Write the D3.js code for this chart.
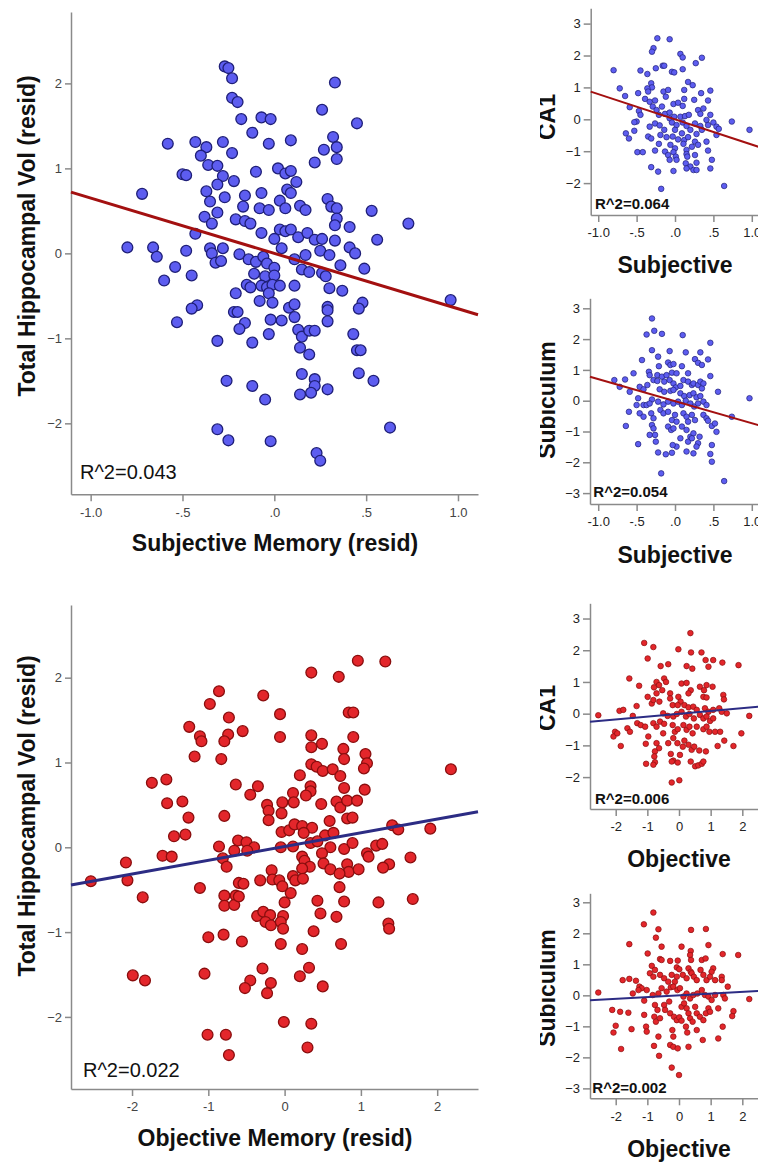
<!DOCTYPE html>
<html>
<head>
<meta charset="utf-8">
<script src="https://cdn.jsdelivr.net/npm/d3@7"></script>
<style>
  body { margin: 0; background: #fff; }
  svg { display: block; }
  text { font-family: Arial, "Liberation Sans", sans-serif; }
</style>
</head>
<body>
<svg id="chart" width="758" height="1163"></svg>
<script>
// ---- data ----
const subjTicks = [-1, -0.5, 0, 0.5, 1];
const subjTickLabels = ['-1.0', '-.5', '.0', '.5', '1.0'];
const objTicks = [-2, -1, 0, 1, 2];
const objTickLabels = ['-2', '-1', '0', '1', '2'];
const hippTicks = [-2, -1, 0, 1, 2];
const ca1Ticks = [-2, -1, 0, 1, 2, 3];
const subTicks = [-3, -2, -1, 0, 1, 2, 3];

const rSquared = ['R^2=0.043', 'R^2=0.022', 'R^2=0.064', 'R^2=0.054', 'R^2=0.006', 'R^2=0.002'];
const fitIntercepts = [0, 0.009, 0, -0.015, -0.002, 0];
const fitSlopes = [-0.651, 0.162, -0.791, -0.717, 0.089, 0.055];

// Total hippocampal volume vs subjective memory
const hippSubj = [[-0.27,2.20],[-0.25,2.18],[-0.23,2.06],[-0.23,1.83],[-0.20,1.78],[0.33,2.01],[0.26,1.69],[0.45,1.53],[-0.18,1.58],[-0.07,1.60],[-0.02,1.58],[-0.12,1.42],[0.32,1.37],[-0.58,1.29],[-0.43,1.31],[-0.37,1.25],[-0.28,1.31],[-0.03,1.29],[0.09,1.33],[0.27,1.22],[0.34,1.25],[-0.40,1.15],[-0.23,1.18],[0.34,1.11],[0.22,1.07],[-0.36,1.04],[-0.31,1.03],[-0.50,0.93],[-0.48,0.92],[-0.28,0.91],[-0.10,0.96],[0.02,1.00],[0.06,0.94],[0.09,0.97],[-0.22,0.85],[0.12,0.84],[-0.31,0.81],[-0.72,0.70],[-0.37,0.73],[-0.27,0.66],[-0.16,0.68],[-0.07,0.71],[0.07,0.75],[0.09,0.71],[-0.35,0.61],[0.03,0.62],[0.29,0.64],[-0.17,0.55],[-0.08,0.53],[-0.03,0.51],[0.06,0.53],[0.14,0.56],[0.17,0.51],[0.31,0.55],[0.34,0.53],[0.53,0.50],[-0.31,0.48],[-0.38,0.43],[-0.21,0.40],[-0.16,0.38],[-0.13,0.35],[-0.34,0.35],[0.34,0.41],[0.73,0.35],[0.33,0.33],[0.41,0.31],[-0.43,0.23],[-0.07,0.24],[0.03,0.28],[0.06,0.26],[0.09,0.28],[0.13,0.19],[0.18,0.24],[0.00,0.17],[0.22,0.16],[0.26,0.17],[0.33,0.15],[0.56,0.16],[-0.80,0.07],[-0.66,0.07],[-0.64,-0.04],[-0.48,0.03],[-0.35,0.06],[-0.34,0.00],[-0.28,0.06],[0.04,0.06],[0.25,0.03],[0.41,0.07],[0.44,0.00],[-0.19,-0.01],[-0.14,-0.07],[-0.10,-0.10],[-0.06,-0.04],[-0.04,-0.12],[0.11,-0.07],[0.17,-0.02],[0.30,-0.02],[-0.32,-0.11],[-0.29,-0.09],[-0.54,-0.16],[0.36,-0.14],[0.49,-0.18],[0.00,-0.17],[0.15,-0.19],[0.19,-0.22],[0.26,-0.23],[0.28,-0.27],[-0.11,-0.24],[-0.05,-0.27],[0.00,-0.26],[-0.45,-0.26],[-0.60,-0.32],[-0.15,-0.37],[-0.13,-0.40],[-0.07,-0.38],[-0.04,-0.40],[-0.01,-0.37],[0.03,-0.38],[0.11,-0.38],[0.30,-0.41],[0.37,-0.44],[-0.21,-0.47],[-0.03,-0.47],[0.96,-0.55],[-0.08,-0.56],[-0.01,-0.58],[-0.42,-0.61],[-0.45,-0.65],[0.08,-0.64],[0.11,-0.60],[0.29,-0.63],[0.29,-0.67],[0.48,-0.58],[0.46,-0.65],[-0.22,-0.69],[-0.20,-0.69],[0.11,-0.75],[-0.53,-0.81],[-0.16,-0.82],[-0.02,-0.78],[0.04,-0.79],[0.29,-0.80],[-0.19,-0.89],[0.13,-0.90],[0.15,-0.98],[0.19,-0.91],[0.22,-0.91],[-0.03,-0.95],[0.43,-0.95],[-0.31,-1.03],[-0.12,-1.05],[0.14,-1.11],[0.19,-1.19],[0.45,-1.14],[0.47,-1.14],[0.15,-1.42],[0.22,-1.48],[0.22,-1.56],[0.20,-1.64],[0.14,-1.66],[0.29,-1.60],[0.46,-1.41],[0.54,-1.50],[-0.26,-1.50],[-0.12,-1.56],[-0.05,-1.72],[-0.31,-2.07],[-0.25,-2.20],[-0.02,-2.21],[0.23,-2.35],[0.25,-2.44],[0.63,-2.05]];

// Total hippocampal volume vs objective memory
const hippObj = [[0.96,2.20],[1.32,2.19],[0.35,2.06],[0.71,2.01],[-0.86,1.84],[-0.28,1.79],[-0.98,1.69],[-0.06,1.57],[0.84,1.59],[0.90,1.59],[-0.73,1.53],[-1.25,1.42],[-1.11,1.31],[-1.09,1.25],[-0.74,1.33],[-0.79,1.25],[-0.55,1.37],[-0.06,1.30],[0.35,1.32],[0.35,1.18],[0.49,1.22],[0.90,1.30],[0.77,1.16],[0.78,1.04],[1.06,1.10],[1.08,0.99],[1.04,0.93],[-1.18,1.07],[-0.83,1.04],[0.35,0.98],[0.42,0.95],[0.50,0.90],[0.63,0.92],[0.73,0.84],[0.20,0.85],[2.18,0.92],[-1.74,0.76],[-1.55,0.80],[-0.64,0.74],[-0.35,0.72],[-0.45,0.62],[0.34,0.72],[0.34,0.66],[0.28,0.61],[0.11,0.64],[0.78,0.70],[1.05,0.68],[-1.54,0.52],[-1.34,0.54],[-0.23,0.50],[-0.21,0.43],[-0.21,0.32],[-0.03,0.53],[-0.04,0.40],[0.12,0.53],[0.48,0.51],[0.68,0.54],[0.73,0.47],[0.82,0.55],[0.95,0.55],[0.82,0.34],[0.89,0.35],[-1.26,0.35],[-0.79,0.37],[0.59,0.31],[-0.04,0.18],[0.06,0.20],[0.13,0.27],[0.23,0.25],[0.36,0.23],[0.25,0.17],[0.53,0.14],[0.64,0.17],[-1.45,0.13],[-1.30,0.15],[1.41,0.26],[1.49,0.21],[1.91,0.22],[-0.86,0.01],[-0.66,-0.04],[-0.61,0.08],[-0.50,0.06],[-0.40,0.00],[-0.49,-0.04],[-0.05,0.00],[0.11,0.01],[0.34,0.05],[0.43,0.07],[0.60,0.00],[0.78,-0.02],[0.89,0.05],[1.20,0.02],[1.28,0.04],[-1.60,-0.10],[-1.48,-0.11],[-0.81,-0.13],[-0.76,-0.23],[0.23,-0.11],[0.26,-0.16],[0.33,-0.23],[0.23,-0.25],[0.49,-0.07],[0.51,-0.19],[0.82,-0.20],[0.84,-0.29],[0.97,-0.26],[1.08,-0.07],[1.10,-0.11],[1.65,-0.12],[1.37,-0.20],[1.29,-0.24],[-2.08,-0.18],[-0.17,-0.27],[0.60,-0.26],[0.72,-0.31],[0.11,-0.34],[0.14,-0.39],[0.24,-0.37],[-0.32,-0.39],[-0.16,-0.38],[-0.07,-0.39],[-0.03,-0.46],[-0.60,-0.42],[-0.54,-0.43],[-2.54,-0.40],[-2.06,-0.39],[-1.11,-0.48],[0.72,-0.47],[0.08,-0.54],[-1.86,-0.59],[-0.79,-0.57],[-0.79,-0.69],[-0.64,-0.57],[-0.66,-0.68],[-0.60,-0.58],[0.00,-0.65],[0.43,-0.63],[0.78,-0.64],[1.23,-0.65],[1.68,-0.61],[0.47,-0.78],[0.68,-0.82],[-0.36,-0.81],[-0.28,-0.76],[-0.19,-0.80],[-0.25,-0.88],[-0.18,-0.92],[-0.02,-0.81],[-0.05,-0.88],[-0.02,-0.96],[1.36,-0.90],[1.37,-0.96],[0.38,-0.99],[-1.00,-1.06],[-0.80,-1.03],[-0.56,-1.11],[-0.05,-1.14],[0.23,-1.20],[0.74,-1.14],[-0.29,-1.43],[0.32,-1.42],[0.20,-1.52],[-1.05,-1.49],[-1.99,-1.51],[-1.83,-1.57],[-0.45,-1.57],[-0.52,-1.66],[-0.18,-1.60],[-0.23,-1.72],[0.50,-1.64],[-0.01,-2.06],[0.35,-2.08],[-1.01,-2.21],[-0.77,-2.21],[-0.73,-2.45],[0.30,-2.36]];

// CA1 vs subjective
const ca1Subj = [[-0.23,2.54],[-0.07,2.51],[-0.28,2.23],[-0.30,2.12],[0.07,2.05],[0.10,1.94],[0.27,1.76],[0.35,1.93],[-0.80,1.54],[-0.45,1.53],[-0.36,1.42],[-0.25,1.60],[-0.16,1.68],[-0.14,1.68],[-0.04,1.49],[-0.01,1.47],[0.10,1.57],[-0.31,1.13],[-0.30,1.00],[-0.36,0.97],[-0.35,0.87],[0.17,1.17],[0.23,1.07],[-0.72,0.97],[-0.65,0.73],[-0.48,0.82],[-0.39,0.64],[-0.33,0.55],[-0.26,0.59],[-0.15,0.87],[-0.09,0.92],[-0.12,0.71],[-0.02,0.48],[0.04,0.52],[0.12,0.64],[0.10,0.42],[0.12,0.92],[0.25,0.61],[0.34,0.82],[0.46,0.90],[0.43,0.59],[-0.59,0.38],[-0.47,0.26],[-0.45,0.14],[-0.29,0.40],[-0.24,0.29],[-0.17,0.40],[-0.21,0.14],[-0.13,0.17],[-0.07,0.21],[-0.07,0.03],[-0.01,0.08],[0.07,0.08],[0.13,0.10],[0.18,0.14],[0.30,0.29],[0.33,0.17],[0.37,0.34],[0.46,0.14],[0.41,-0.02],[-0.50,-0.07],[-0.53,-0.09],[-0.64,-0.44],[-0.60,-0.60],[-0.53,-0.36],[-0.33,-0.23],[-0.35,-0.54],[-0.26,-0.13],[-0.20,-0.19],[-0.14,-0.33],[-0.04,-0.10],[0.02,-0.18],[0.00,-0.33],[0.10,-0.10],[0.15,-0.21],[0.20,-0.33],[0.26,-0.13],[0.33,-0.21],[0.35,-0.33],[0.28,-0.46],[0.43,-0.18],[0.50,-0.10],[0.54,-0.23],[0.57,-0.30],[0.54,-0.49],[0.74,-0.07],[0.97,-0.33],[-0.19,-0.49],[-0.11,-0.56],[-0.03,-0.54],[0.04,-0.63],[0.09,-0.44],[0.12,-0.65],[0.17,-0.56],[0.26,-0.70],[0.30,-0.80],[0.41,-0.70],[-0.21,-0.77],[-0.31,-0.60],[-0.06,-0.80],[0.00,-0.91],[0.11,-0.77],[0.15,-0.96],[0.22,-0.86],[-0.26,-0.98],[-0.49,-1.03],[-0.42,-1.03],[-0.13,-1.01],[-0.09,-1.12],[-0.02,-1.03],[0.01,-1.17],[0.15,-1.09],[0.16,-1.17],[0.26,-1.12],[0.43,-0.98],[-0.07,-1.27],[0.02,-1.27],[0.14,-1.38],[0.20,-1.48],[0.24,-1.59],[0.28,-1.36],[0.28,-1.59],[0.15,-1.54],[-0.31,-1.50],[-0.22,-1.64],[-0.02,-1.62],[0.48,-1.27],[0.46,-1.54],[0.64,-2.09],[-0.18,-2.18]];

// Subiculum vs subjective
const subSubj = [[-0.30,2.67],[-0.37,2.15],[-0.27,2.27],[-0.17,2.17],[0.10,2.13],[0.46,1.88],[-0.30,1.64],[-0.07,1.61],[0.14,1.57],[0.33,1.57],[-0.22,1.43],[-0.43,1.32],[0.26,1.35],[0.30,1.23],[0.35,1.16],[0.43,1.34],[-0.09,1.24],[-0.06,1.16],[-0.02,1.19],[0.09,1.12],[-0.21,1.12],[-0.54,0.89],[-0.34,0.94],[-0.33,0.83],[-0.23,0.83],[-0.17,0.78],[-0.11,0.83],[-0.04,0.91],[0.02,0.89],[0.17,0.89],[0.46,0.80],[-0.79,0.67],[-0.72,0.45],[-0.65,0.69],[-0.59,0.29],[-0.46,0.45],[-0.41,0.37],[-0.36,0.51],[-0.28,0.67],[-0.23,0.64],[-0.14,0.62],[-0.07,0.67],[-0.02,0.56],[0.01,0.43],[0.07,0.48],[0.11,0.67],[0.17,0.62],[0.22,0.51],[0.24,0.56],[0.30,0.51],[0.35,0.40],[0.33,0.62],[0.37,0.56],[0.56,0.29],[-0.20,0.37],[-0.14,0.29],[-0.06,0.32],[-0.02,0.35],[0.07,0.24],[0.12,0.15],[0.19,0.18],[0.24,0.24],[0.28,0.11],[0.33,0.15],[-0.48,0.08],[-0.50,-0.14],[-0.41,-0.14],[-0.37,-0.14],[-0.30,0.04],[-0.33,-0.09],[-0.22,-0.03],[-0.15,-0.12],[-0.09,-0.03],[-0.02,-0.09],[0.04,-0.03],[0.09,-0.14],[0.14,0.00],[0.20,-0.09],[0.25,-0.19],[0.30,-0.09],[0.37,-0.03],[0.41,-0.14],[0.97,0.08],[-0.60,-0.36],[-0.46,-0.41],[-0.41,-0.52],[-0.31,-0.41],[-0.28,-0.57],[-0.30,-0.79],[-0.19,-0.30],[-0.15,-0.41],[-0.09,-0.36],[0.00,-0.46],[-0.04,-0.63],[0.02,-0.68],[0.11,-0.41],[0.15,-0.52],[0.17,-0.68],[0.22,-0.46],[0.26,-0.63],[0.37,-0.46],[0.41,-0.57],[0.43,-0.65],[0.48,-0.82],[0.52,-0.74],[0.54,-1.01],[0.74,-0.52],[-0.64,-0.82],[-0.28,-0.90],[-0.26,-1.11],[-0.09,-0.84],[-0.05,-0.95],[-0.02,-0.90],[0.09,-0.84],[0.15,-0.95],[0.20,-1.17],[0.24,-1.06],[0.17,-1.33],[0.22,-1.22],[0.32,-1.17],[-0.33,-1.11],[-0.25,-1.33],[0.07,-1.22],[0.02,-1.49],[-0.03,-1.44],[0.30,-1.38],[0.28,-1.49],[0.48,-1.44],[0.46,-1.73],[0.48,-1.98],[-0.48,-1.41],[-0.22,-1.68],[-0.12,-1.74],[-0.04,-1.69],[0.15,-1.65],[0.24,-1.71],[-0.18,-2.36],[0.64,-2.61]];

// CA1 vs objective
const ca1Obj = [[0.36,2.54],[-1.10,2.23],[-0.81,2.10],[-0.02,2.03],[0.38,1.93],[0.71,1.93],[-0.99,1.74],[0.84,1.69],[1.08,1.69],[1.37,1.61],[1.88,1.53],[-0.58,1.50],[-0.34,1.56],[0.24,1.50],[0.42,1.42],[0.93,1.48],[-1.57,1.11],[-1.26,0.88],[-0.47,1.11],[-0.41,1.00],[-0.71,1.00],[-0.63,0.90],[-0.79,0.83],[-0.71,0.64],[-0.99,0.53],[-0.86,0.32],[-0.81,0.43],[-0.62,0.38],[-0.53,0.74],[-0.28,0.64],[-0.28,0.48],[-0.20,0.27],[-0.02,0.53],[0.05,0.38],[-0.04,0.27],[0.08,0.95],[0.24,0.97],[0.37,0.74],[0.30,0.64],[0.66,0.85],[0.79,0.74],[0.87,0.90],[1.06,0.85],[0.77,0.53],[0.87,0.51],[1.40,0.59],[1.42,0.45],[0.17,0.27],[0.30,0.20],[0.45,0.22],[0.56,0.12],[0.82,0.17],[0.93,0.06],[1.08,0.12],[1.27,0.17],[1.35,0.06],[1.51,0.01],[-2.55,-0.05],[-1.88,0.09],[-1.76,0.12],[-1.34,0.24],[-1.46,-0.07],[-0.50,0.01],[-0.36,-0.07],[-0.18,-0.09],[-0.07,-0.01],[0.08,0.06],[0.22,-0.09],[0.33,-0.01],[0.47,-0.15],[0.66,-0.04],[0.77,-0.15],[0.87,-0.09],[0.98,-0.23],[1.08,-0.15],[2.22,-0.07],[-2.02,-0.57],[-2.07,-0.72],[-1.95,-0.62],[-1.63,-0.46],[-1.55,-0.57],[-1.32,-0.30],[-1.21,-0.36],[-1.07,-0.41],[-0.81,-0.30],[-0.71,-0.41],[-0.60,-0.25],[-0.47,-0.32],[-0.97,-0.72],[-0.50,-0.62],[-0.20,-0.36],[-0.13,-0.57],[-0.04,-0.49],[0.14,-0.36],[0.24,-0.51],[0.33,-0.41],[0.43,-0.62],[0.56,-0.41],[0.77,-0.49],[0.87,-0.41],[0.96,-0.57],[1.14,-0.57],[1.30,-0.57],[1.43,-0.85],[1.97,-0.62],[-1.84,-1.02],[-1.05,-0.95],[-0.71,-0.93],[-0.63,-1.09],[-0.34,-0.93],[-0.18,-0.77],[-0.05,-0.93],[0.12,-1.04],[0.17,-0.85],[0.30,-0.98],[0.40,-1.14],[0.48,-1.04],[0.64,-1.16],[0.85,-1.19],[1.22,-1.02],[1.72,-1.02],[-0.76,-1.19],[-0.78,-1.35],[-0.76,-1.53],[-1.04,-1.58],[-0.81,-1.61],[-0.26,-1.27],[-0.18,-1.48],[-0.23,-1.51],[-0.04,-1.54],[0.03,-1.30],[0.37,-1.51],[0.51,-1.66],[0.61,-1.63],[0.72,-1.58],[0.77,-1.51],[-0.23,-2.17],[0.01,-2.10]];

// Subiculum vs objective
const subObj = [[-0.81,2.67],[-1.11,2.29],[-0.65,2.13],[0.38,2.11],[0.85,2.14],[-0.73,1.86],[-1.57,1.65],[-0.55,1.57],[0.08,1.57],[0.93,1.62],[0.37,1.43],[0.35,1.30],[-0.99,1.35],[1.38,1.33],[1.87,1.30],[-0.60,1.17],[-0.55,1.14],[-0.28,1.11],[-0.04,1.12],[0.38,1.14],[0.72,1.14],[0.84,1.19],[-0.86,0.95],[-0.76,0.82],[-0.07,0.90],[0.01,0.84],[0.30,0.87],[0.37,0.76],[1.08,0.87],[1.03,0.76],[-0.92,0.71],[-0.81,0.60],[-0.60,0.66],[-0.47,0.55],[-0.34,0.44],[-0.23,0.66],[-0.07,0.60],[-0.13,0.44],[0.12,0.66],[0.24,0.55],[0.40,0.71],[0.47,0.60],[0.56,0.49],[0.68,0.82],[0.77,0.66],[0.87,0.49],[0.98,0.60],[1.14,0.49],[1.35,0.60],[1.54,0.28],[1.35,0.49],[-1.78,0.49],[-1.57,0.53],[-1.36,0.47],[-1.25,0.28],[-1.18,0.23],[-1.28,0.17],[-1.02,0.17],[-1.46,0.06],[-2.55,0.09],[-1.10,-0.17],[-0.83,0.01],[-0.65,0.06],[-0.55,0.23],[-0.39,0.12],[-0.26,0.26],[-0.18,0.28],[-0.05,0.17],[0.03,0.23],[0.14,-0.04],[0.24,0.06],[0.35,-0.10],[0.45,0.01],[0.58,0.06],[0.72,0.17],[0.82,0.01],[0.93,-0.04],[1.03,-0.15],[1.14,0.01],[1.40,0.01],[1.45,-0.10],[2.22,-0.12],[-2.11,-0.47],[-1.86,-0.53],[-1.60,-0.56],[-2.00,-0.98],[-2.07,-1.20],[-1.50,-1.09],[-1.10,-0.63],[-1.04,-1.01],[-1.02,-1.17],[-1.83,-1.73],[-0.76,-0.31],[-0.68,-0.47],[-0.78,-0.69],[-0.73,-0.85],[-0.60,-0.74],[-0.47,-0.31],[-0.44,-0.47],[-0.31,-0.20],[-0.28,-0.58],[-0.16,-0.69],[-0.07,-0.80],[0.01,-0.71],[0.08,-0.82],[0.08,-0.37],[0.16,-0.26],[0.24,-0.42],[0.30,-0.58],[0.35,-0.74],[0.43,-0.85],[0.51,-0.37],[0.56,-0.58],[0.66,-0.69],[0.77,-0.80],[0.85,-0.58],[0.93,-0.42],[0.98,-0.53],[1.24,-0.42],[1.72,-0.51],[1.68,-0.67],[1.38,-1.01],[1.24,-1.39],[-0.65,-1.33],[-0.79,-1.63],[-0.63,-1.95],[-0.21,-1.12],[-0.18,-1.33],[-0.28,-1.60],[-0.18,-1.66],[-0.04,-1.71],[0.22,-1.01],[0.26,-1.20],[0.30,-1.66],[0.56,-1.12],[0.75,-1.44],[-0.23,-2.33],[0.00,-2.57]];

// ---- styles ----
const blue = { fill: '#5d5df0', stroke: '#1f1f78', line: '#a31010' };
const red = { fill: '#e3262b', stroke: '#8a0e0e', line: '#2c2c84' };

const svg = d3.select('#chart');
svg.append('rect').attr('width', 758).attr('height', 1163).attr('fill', '#fff');

// the small panels are cropped at their left edge in the original figure
svg.append('defs').append('clipPath')
  .attr('id', 'rightClip')
  .append('rect')
  .attr('x', 540).attr('y', 0).attr('width', 218).attr('height', 1163);

const panels = [
  { data: hippSubj, col: blue, big: true,
    left: 71, right: 478, top: 12, bottom: 494.3, xDomain: [-1.107, 1.109], yDomain: [-2.835, 2.84],
    xTicks: subjTicks, xLabels: subjTickLabels, yTicks: hippTicks,
    xTitle: 'Subjective Memory (resid)', xTitleX: 275, xTitleY: 550.5,
    yTitle: 'Total Hippocampal Vol (resid)', yTitleX: 35, yTitleY: 236,
    rX: 80, rY: 479 },
  { data: hippObj, col: red, big: true,
    left: 71, right: 478, top: 605, bottom: 1089, xDomain: [-2.80, 2.535], yDomain: [-2.85, 2.857],
    xTicks: objTicks, xLabels: objTickLabels, yTicks: hippTicks,
    xTitle: 'Objective Memory (resid)', xTitleX: 275, xTitleY: 1145.5,
    yTitle: 'Total Hippocampal Vol (resid)', yTitleX: 35, yTitleY: 816,
    rX: 83, rY: 1076.5 },
  { data: ca1Subj, col: blue, big: false,
    left: 590.7, right: 767, top: 8.3, bottom: 215, xDomain: [-1.098, 1.198], yDomain: [-3.0, 3.48],
    xTicks: subjTicks, xLabels: subjTickLabels, yTicks: ca1Ticks,
    xTitle: 'Subjective', xTitleX: 675, xTitleY: 272.5,
    yTitle: 'CA1', yTitleX: 555, yTitleY: 117,
    rX: 595, rY: 209.3 },
  { data: subSubj, col: blue, big: false,
    left: 590, right: 767, top: 298.3, bottom: 504, xDomain: [-1.107, 1.198], yDomain: [-3.354, 3.325],
    xTicks: subjTicks, xLabels: subjTickLabels, yTicks: subTicks,
    xTitle: 'Subjective', xTitleX: 675, xTitleY: 562.5,
    yTitle: 'Subiculum', yTitleX: 555, yTitleY: 400,
    rX: 593.3, rY: 496.5 },
  { data: ca1Obj, col: red, big: false,
    left: 590, right: 767, top: 603.3, bottom: 809, xDomain: [-2.812, 2.78], yDomain: [-3.006, 3.48],
    xTicks: objTicks, xLabels: objTickLabels, yTicks: ca1Ticks,
    xTitle: 'Objective', xTitleX: 679, xTitleY: 867,
    yTitle: 'CA1', yTitleX: 555, yTitleY: 708,
    rX: 595, rY: 804 },
  { data: subObj, col: red, big: false,
    left: 590, right: 767, top: 893.3, bottom: 1098.3, xDomain: [-2.812, 2.78], yDomain: [-3.32, 3.29],
    xTicks: objTicks, xLabels: objTickLabels, yTicks: subTicks,
    xTitle: 'Objective', xTitleX: 679, xTitleY: 1157,
    yTitle: 'Subiculum', yTitleX: 555, yTitleY: 988,
    rX: 592.3, rY: 1093 }
];

panels.forEach((p, i) => {
  const g = svg.append('g');
  if (!p.big) g.attr('clip-path', 'url(#rightClip)');

  const xScale = d3.scaleLinear().domain(p.xDomain).range([p.left, p.right]);
  const yScale = d3.scaleLinear().domain(p.yDomain).range([p.bottom, p.top]);

  // axes (left and bottom only)
  const yAxis = g.append('g')
    .attr('transform', `translate(${p.left},0)`)
    .call(d3.axisLeft(yScale)
      .tickValues(p.yTicks)
      .tickFormat(d3.format('d'))
      .tickSize(p.big ? 6 : 7)
      .tickSizeOuter(0)
      .tickPadding(3));

  const xAxis = g.append('g')
    .attr('transform', `translate(0,${p.bottom})`)
    .call(d3.axisBottom(xScale)
      .tickValues(p.xTicks)
      .tickFormat((d, k) => p.xLabels[k])
      .tickSize(7)
      .tickSizeOuter(0)
      .tickPadding(6));

  [yAxis, xAxis].forEach(ax => {
    ax.select('.domain').attr('stroke', '#8a8a8a').attr('stroke-width', 1.5);
    ax.selectAll('.tick line').attr('stroke', '#8a8a8a').attr('stroke-width', 1.5);
    ax.selectAll('.tick text')
      .attr('font-size', 13)
      .attr('fill', p.big ? '#444' : '#222')
      .style('font-family', 'Arial, "Liberation Sans", sans-serif');
  });

  // points
  g.append('g')
    .selectAll('circle')
    .data(p.data)
    .enter()
    .append('circle')
    .attr('cx', d => xScale(d[0]))
    .attr('cy', d => yScale(d[1]))
    .attr('r', p.big ? 5.4 : 2.8)
    .attr('fill', p.col.fill)
    .attr('stroke', p.col.stroke)
    .attr('stroke-width', p.big ? 1.3 : 0.7);

  // fit line
  const fx = p.xDomain;
  g.append('line')
    .attr('x1', xScale(fx[0]))
    .attr('y1', yScale(fitIntercepts[i] + fitSlopes[i] * fx[0]))
    .attr('x2', xScale(fx[1]))
    .attr('y2', yScale(fitIntercepts[i] + fitSlopes[i] * fx[1]))
    .attr('stroke', p.col.line)
    .attr('stroke-width', p.big ? 3 : 2);

  // R^2 label
  g.append('text')
    .attr('x', p.rX)
    .attr('y', p.rY)
    .attr('font-size', p.big ? 20 : 15)
    .attr('font-weight', p.big ? 'normal' : 'bold')
    .attr('fill', '#111')
    .text(rSquared[i]);

  // axis titles
  g.append('text')
    .attr('x', p.xTitleX)
    .attr('y', p.xTitleY)
    .attr('text-anchor', 'middle')
    .attr('font-size', 23)
    .attr('font-weight', 'bold')
    .attr('fill', '#111')
    .text(p.xTitle);

  g.append('text')
    .attr('transform', `translate(${p.yTitleX},${p.yTitleY}) rotate(-90)`)
    .attr('text-anchor', 'middle')
    .attr('font-size', 23)
    .attr('font-weight', 'bold')
    .attr('fill', '#111')
    .text(p.yTitle);
});
</script>
</body>
</html>
